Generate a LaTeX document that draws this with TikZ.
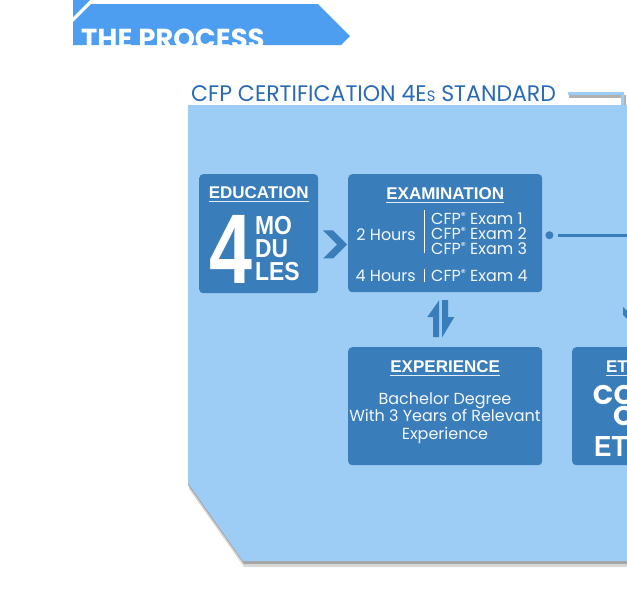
\documentclass[tikz,border=0pt]{standalone}
\usepackage{fontspec}
\setmainfont{Poppins}
\newfontfamily\headfont{Liberation Sans}
\usetikzlibrary{positioning,calc}

\definecolor{bannerblue}{RGB}{77,157,240}
\definecolor{panelblue}{RGB}{157,204,245}
\definecolor{boxblue}{RGB}{58,125,187}
\definecolor{titleblue}{RGB}{40,106,182}

\newcommand{\regmark}{\raisebox{0.3em}{\fontsize{10}{10}\selectfont ®}}

\begin{document}
\begin{tikzpicture}[
  x=1pt, y=-1pt,
  box/.style={fill=boxblue, rounded corners=4pt, inner sep=0pt, anchor=north west},
  head/.style={text=white, font=\headfont\bfseries\fontsize{17}{17}\selectfont, inner sep=0pt, anchor=base},
  body/.style={text=white!94!boxblue, font=\fontsize{16}{15}\selectfont, inner sep=0pt},
  bigtxt/.style={text=white, font=\headfont\bfseries\fontsize{26}{23}\selectfont, inner sep=0pt, anchor=base west},
  sepline/.style={draw=white, line width=1pt},
  link/.style={draw=boxblue, line width=3pt},
  arrowshape/.style={fill=boxblue}
]
  \useasboundingbox (0,0) rectangle (627,606);
  \clip (0,0) rectangle (627,606);

  % banner
  \fill[bannerblue] (73,0) -- (90,0) -- (73,17) -- cycle;
  \fill[bannerblue] (73,22) -- (91,4) -- (318,4) -- (350,36) -- (341,45) -- (73,45) -- cycle;
  \begin{scope}
    \clip (60,0) rectangle (360,45);
    \node[anchor=base west, text=white, font=\bfseries\fontsize{27.5}{27.5}\selectfont, inner sep=0pt] (process) at (81,48) {THE PROCESS};
  \end{scope}

  % title and its line
  \node[anchor=base west, text=titleblue, font=\fontsize{22.5}{22.5}\selectfont, inner sep=0pt] (title) at (191,101) {\scalebox{0.98}[1]{CFP CERTIFICATION 4E{\fontsize{15}{15}\selectfont S} STANDARD}};
  \draw[black!30, line width=3pt] (569,96) -| (624,108);
  \draw[panelblue, line width=3pt] (568,93) -| (622,106);

  % panel with shadow
  \fill[black!15] (190,109) -- (710,109) -- (710,567) -- (244,567) -- (189,489) -- cycle;
  \fill[black!35] (189,107) -- (710,107) -- (710,564) -- (244,564) -- (188,485) -- cycle;
  \fill[panelblue] (188,105) -- (710,105) -- (710,561) -- (243,561) -- (188,483) -- cycle;

  % boxes
  \node[box, minimum width=119pt, minimum height=119pt] (edu) at (199,174) {};
  \node[box, minimum width=194pt, minimum height=118pt] (exam) at (348,174) {};
  \node[box, minimum width=194pt, minimum height=118pt] (exp) at (348,347) {};
  \node[box, minimum width=130pt, minimum height=118pt] (eth) at (572,347) {};

  % headings
  \node[head] (eduhead) at ([yshift=-24pt]edu.north) {EDUCATION};
  \node[head] (examhead) at ([yshift=-25pt]exam.north) {EXAMINATION};
  \node[head] (exphead) at ([yshift=-25pt]exp.north) {EXPERIENCE};
  \node[head] (ethhead) at ([yshift=-25pt]eth.north) {ETHICS};
  \foreach \H in {eduhead,examhead,exphead,ethhead} {
    \draw[white!85!boxblue, line width=0.9pt] ([yshift=-3.5pt]\H.base west) -- ([yshift=-3.5pt]\H.base east);
  }

  % education
  \node[anchor=base west, text=white, font=\headfont\bfseries\fontsize{99}{99}\selectfont, inner sep=0pt] (four) at (209,283) {\scalebox{0.78}[1]{4}};
  \node[bigtxt, align=left, xscale=0.88] (modules) at (255,280) {MO\\DU\\LES};

  % examination
  \node[body, anchor=base east] (hrs2) at (416,240) {2 Hours};
  \node[body, anchor=base east] (hrs4) at (416,281) {4 Hours};
  \node[body, anchor=base west, align=left] (exams) at (431,254) {CFP\regmark{} Exam 1\\CFP\regmark{} Exam 2\\CFP\regmark{} Exam 3};
  \node[body, anchor=base west] (exfour) at (431,281) {CFP\regmark{} Exam 4};
  \draw[sepline] (424,210) -- (424,253);
  \draw[sepline] (424,269) -- (424,282);

  % experience
  \node[body, anchor=base, align=center, font=\fontsize{16}{17.5}\selectfont] (expbody) at (445,439) {Bachelor Degree\\With 3 Years of Relevant\\Experience};

  % ethics
  \node[anchor=base, align=center, text=white, font=\bfseries\fontsize{27}{18}\selectfont, inner sep=0pt] (codeof) at (631,425) {CODE\\OF};
  \node[anchor=base west, text=white, font=\headfont\bfseries\fontsize{29}{29}\selectfont, inner sep=0pt] (ethics) at (594,456) {\scalebox{0.9}[1]{ETHICS}};

  % connectors
  \coordinate (chev) at ([yshift=-11pt]$(edu.east)!0.5!(exam.west)$);
  \begin{scope}[shift={(chev)}]
    \fill[arrowshape] (-10,-14) -- (0,-14) -- (14,0) -- (0,14) -- (-10,14) -- (4,0) -- cycle;
  \end{scope}

  \coordinate (updn) at ($(exam.south)!0.5!(exp.north)$);
  \begin{scope}[shift={(updn)}]
    \fill[arrowshape] (-6,-19.5) -- (-18,-2.5) -- (-12,-2.5) -- (-12,17.5) -- (-6,17.5) -- cycle;
    \fill[arrowshape] (-3,-19.5) -- (3,-19.5) -- (3,-2.5) -- (9,-2.5) -- (-3,17.5) -- cycle;
  \end{scope}

  \coordinate (dot) at ([xshift=7pt,yshift=-2pt]exam.east);
  \fill[boxblue] (dot) circle[radius=4pt];
  \draw[link] ([xshift=9pt]dot) -| ([yshift=45pt]eth.north);
  \begin{scope}[shift={([yshift=40pt]eth.north)}]
    \fill[arrowshape] (-14,0) -- (-14,8) -- (0,22) -- (14,8) -- (14,0) -- (0,14) -- cycle;
  \end{scope}
\end{tikzpicture}
\end{document}
